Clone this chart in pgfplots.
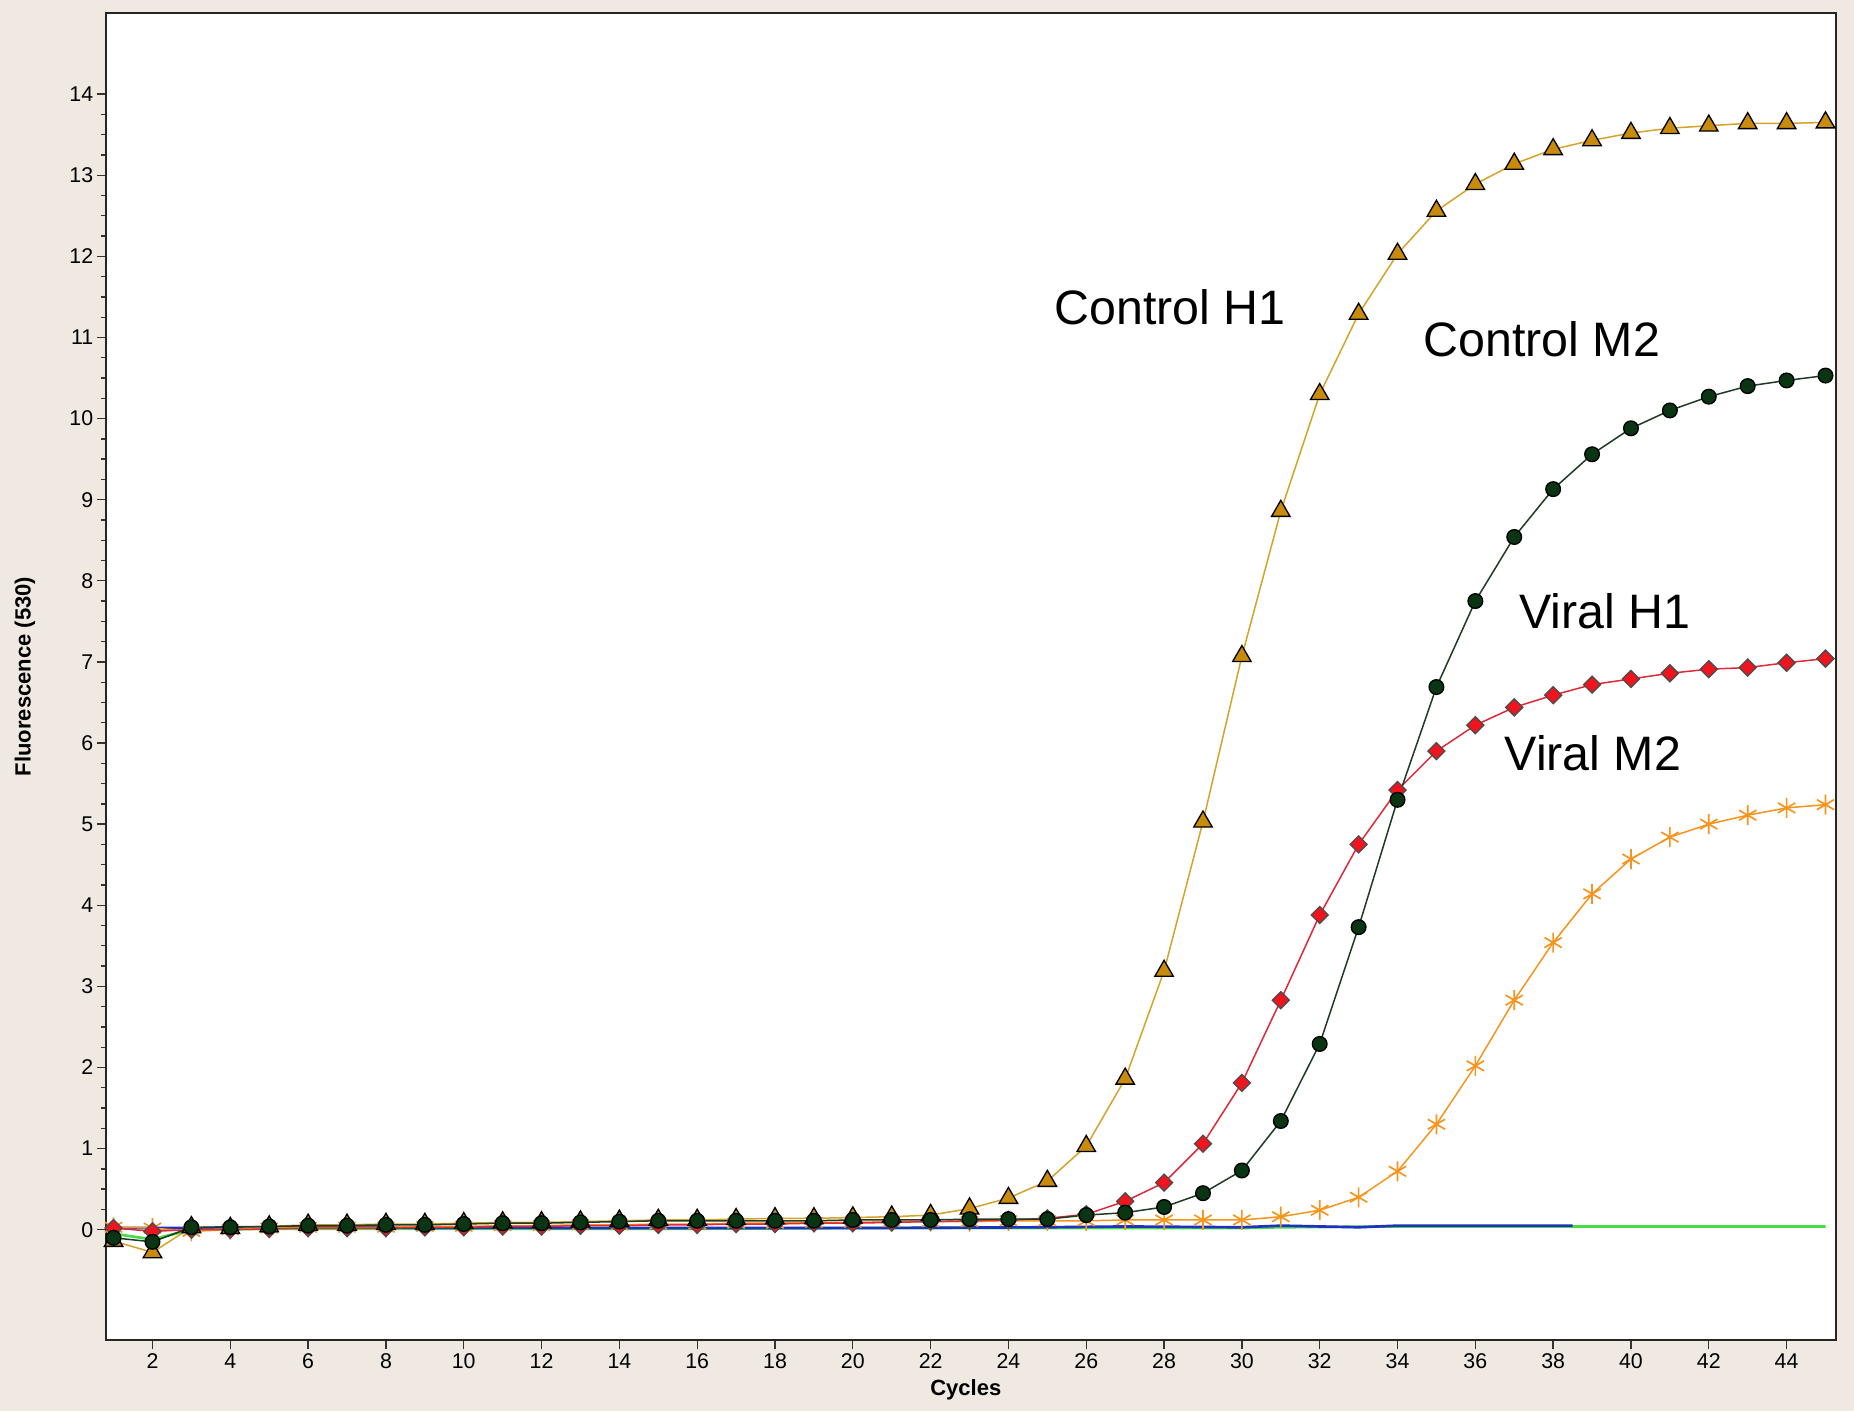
\documentclass[border=0pt]{standalone}
\usepackage{pgfplots}
\pgfplotsset{compat=1.18}
\usepackage{fontspec}
\setmainfont{Liberation Sans}
\usetikzlibrary{backgrounds}
\definecolor{bg}{HTML}{EFE9E1}
\definecolor{chline}{HTML}{D4A428}
\definecolor{chfill}{HTML}{C88B0C}
\definecolor{cmline}{HTML}{1E3B25}
\definecolor{cmfill}{HTML}{0A3512}
\definecolor{vhline}{HTML}{E02838}
\definecolor{vhfill}{HTML}{F0141E}
\definecolor{vmline}{HTML}{F7941D}
\definecolor{gline}{HTML}{44DD44}
\definecolor{bline}{HTML}{2030C0}
\begin{document}
\begin{tikzpicture}
\begin{axis}[
  scale only axis,
  width=519pt, height=398.1pt,
  xmin=0.805, xmax=45.27,
  ymin=-1.36, ymax=15,
  xtick={2,4,...,44},
  ytick={0,1,...,14},
  minor y tick num=3,
  tick align=outside,
  xtick pos=left, ytick pos=left,
  major tick length=2.8pt,
  minor tick length=1.5pt,
  tick style={black!80, line width=0.4pt},
  axis line style={black!85, line width=0.6pt},
  axis background/.style={fill=white},
  /pgf/number format/assume math mode=true,
  ticklabel style={font=\fontsize{6.4}{7}\selectfont},
  xticklabel style={yshift=2.2pt},
  yticklabel style={xshift=2.5pt},
  xlabel={\textbf{Cycles}},
  ylabel={\textbf{Fluorescence (530)}},
  label style={font=\fontsize{6.6}{8}\selectfont},
  xlabel style={at={(rel axis cs:0.497,0)}, anchor=center, yshift=-15pt},
  ylabel style={at={(rel axis cs:0,0.5)}, anchor=center, yshift=24.3pt},
  clip=false,
]
\coordinate (sw) at (rel axis cs:0,0);
\coordinate (ne) at (rel axis cs:1,1);
% flat lines
\addplot[gline, line width=0.8pt] coordinates {(1,-0.05)(2,-0.12)(3,0)(5,0.01)(10,0.01)(15,0.01)(20,0.02)(25,0.02)(30,0.02)(31,0.03)(34,0.04)(45,0.04)};
\addplot[bline, line width=0.8pt] coordinates {(1,0.02)(2,0.02)(3,0.02)(4,0.03)(14,0.02)(20,0.02)(25,0.03)(27,0.04)(30,0.03)(31,0.05)(33,0.03)(34,0.05)(38.5,0.05)};
% Viral M2 (orange asterisks)
\addplot[vmline, line width=0.45pt, mark=asterisk, mark size=3pt, mark options={line width=0.5pt}] coordinates {
(1,0.03)(2,0.02)(3,-0.02)(4,0.0)(5,0.02)(6,0.03)(7,0.03)(8,0.03)(9,0.04)(10,0.04)
(11,0.05)(12,0.05)(13,0.06)(14,0.06)(15,0.07)(16,0.07)(17,0.08)(18,0.08)(19,0.09)(20,0.09)
(21,0.10)(22,0.10)(23,0.10)(24,0.11)(25,0.11)(26,0.11)(27,0.12)(28,0.12)(29,0.12)(30,0.12)
(31,0.16)(32,0.24)(33,0.40)(34,0.72)(35,1.30)(36,2.02)(37,2.83)(38,3.54)(39,4.14)(40,4.57)
(41,4.84)(42,5.00)(43,5.11)(44,5.20)(45,5.24)};
% Viral H1 (red diamonds)
\addplot[vhline, line width=0.45pt, mark=square*, mark size=1.8pt, mark options={rotate=45, draw=black!70, fill=vhfill, line width=0.4pt}] coordinates {
(1,0.02)(2,-0.02)(3,0.0)(4,0.0)(5,0.01)(6,0.02)(7,0.02)(8,0.02)(9,0.03)(10,0.03)
(11,0.04)(12,0.04)(13,0.05)(14,0.05)(15,0.06)(16,0.06)(17,0.07)(18,0.07)(19,0.08)(20,0.08)
(21,0.09)(22,0.10)(23,0.11)(24,0.12)(25,0.14)(26,0.19)(27,0.35)(28,0.58)(29,1.06)(30,1.81)
(31,2.83)(32,3.88)(33,4.75)(34,5.42)(35,5.90)(36,6.22)(37,6.44)(38,6.59)(39,6.72)(40,6.79)
(41,6.86)(42,6.91)(43,6.93)(44,6.99)(45,7.04)};
% Control H1 (triangles)
\addplot[chline, line width=0.45pt, mark=triangle*, mark size=3.2pt, mark options={draw=black, fill=chfill, line width=0.4pt}] coordinates {
(1,-0.14)(2,-0.28)(3,0.03)(4,0.02)(5,0.04)(6,0.06)(7,0.06)(8,0.07)(9,0.07)(10,0.08)
(11,0.09)(12,0.09)(13,0.10)(14,0.11)(15,0.12)(16,0.12)(17,0.13)(18,0.14)(19,0.14)(20,0.15)
(21,0.16)(22,0.18)(23,0.26)(24,0.39)(25,0.60)(26,1.03)(27,1.86)(28,3.19)(29,5.03)(30,7.07)
(31,8.86)(32,10.30)(33,11.29)(34,12.03)(35,12.56)(36,12.89)(37,13.14)(38,13.32)(39,13.43)(40,13.52)
(41,13.58)(42,13.61)(43,13.64)(44,13.64)(45,13.65)};
% Control M2 (dark green circles)
\addplot[cmline, line width=0.45pt, mark=*, mark size=2.2pt, mark options={draw=black, fill=cmfill, line width=0.4pt}] coordinates {
(1,-0.10)(2,-0.15)(3,0.03)(4,0.03)(5,0.04)(6,0.05)(7,0.05)(8,0.06)(9,0.06)(10,0.07)
(11,0.08)(12,0.08)(13,0.09)(14,0.10)(15,0.11)(16,0.11)(17,0.11)(18,0.11)(19,0.11)(20,0.12)
(21,0.12)(22,0.12)(23,0.13)(24,0.13)(25,0.13)(26,0.18)(27,0.21)(28,0.28)(29,0.45)(30,0.73)
(31,1.34)(32,2.29)(33,3.73)(34,5.30)(35,6.69)(36,7.75)(37,8.54)(38,9.13)(39,9.56)(40,9.88)
(41,10.10)(42,10.27)(43,10.40)(44,10.47)(45,10.53)};
\node[font=\fontsize{14.5}{16}\selectfont] at (axis cs:28.15,11.37) {Control H1};
\node[font=\fontsize{14.5}{16}\selectfont] at (axis cs:37.71,10.98) {Control M2};
\node[font=\fontsize{14.5}{16}\selectfont] at (axis cs:39.32,7.62) {Viral H1};
\node[font=\fontsize{14.5}{16}\selectfont] at (axis cs:39.02,5.87) {Viral M2};
\end{axis}
\begin{scope}[on background layer]
\fill[bg] ([shift={(-31.8pt,-21.3pt)}]sw) rectangle ([shift={(5.4pt,3.9pt)}]ne);
\end{scope}
\end{tikzpicture}
\end{document}
